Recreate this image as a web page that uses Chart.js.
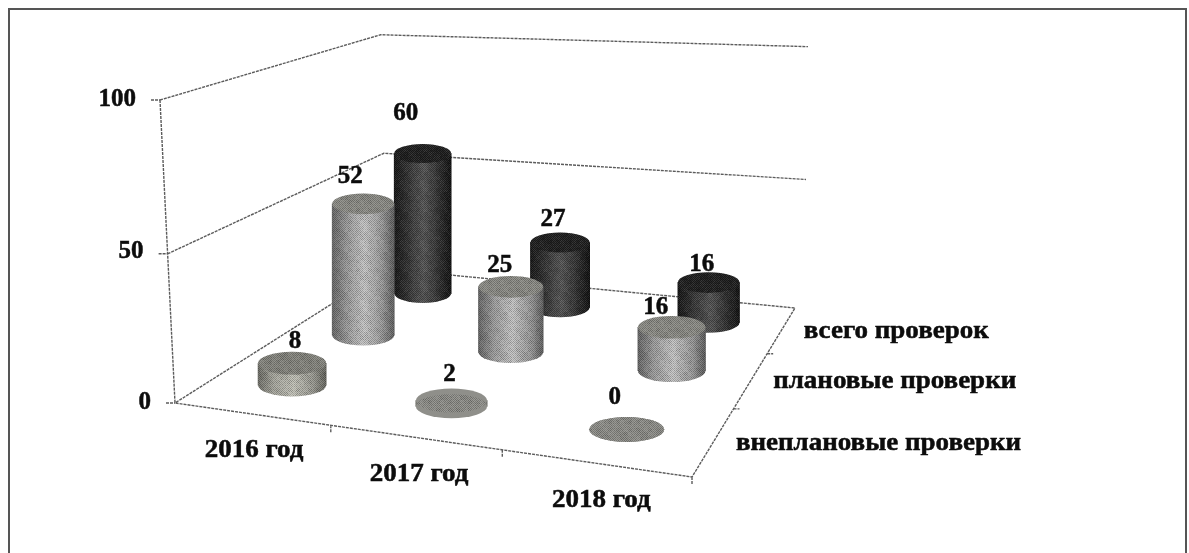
<!DOCTYPE html>
<html lang="ru">
<head>
<meta charset="utf-8">
<title>Проверки 2016-2018</title>
<script src="https://cdn.jsdelivr.net/npm/chart.js@4"></script>
<style>
  html, body { margin: 0; padding: 0; background: #fff; }
  #box { width: 1189px; height: 553px; }
  /* the original is a soft scan */
  #myChart { filter: blur(0.4px); }
</style>
</head>
<body>
<div id="box"><canvas id="myChart"></canvas></div>
<script>
// Data
const categories = ['2016 год', '2017 год', '2018 год'];
const seriesNames = ['внеплановые проверки', 'плановые проверки', 'всего проверок'];
const unplanned = [8, 2, 0];
const planned = [52, 25, 16];
const total = [60, 27, 16];
const tickValues = [0, 50, 100];

const seriesValues = [unplanned, planned, total];

// Camera of the 3D box: where the floor corners and the top of the front corner land
const FL = [175, 403], FR = [692, 477], BR = [795, 308], BL = [387, 269], FT = [160, 100];
const GW = -0.03;      // perspective along the value axis
const BAR_FIT = 0.95;  // cylinders come out a bit shorter than the walls in the original
const RADIUS = 35;     // cylinder radius on the front plane
const FLATNESS = 0.335;
const Y_PER_UNIT = 3.03;

// Square-to-quad solve for the floor
const dx1 = FR[0] - BR[0], dx2 = BL[0] - BR[0], sx = FL[0] - FR[0] + BR[0] - BL[0];
const dy1 = FR[1] - BR[1], dy2 = BL[1] - BR[1], sy = FL[1] - FR[1] + BR[1] - BL[1];
const det = dx1 * dy2 - dx2 * dy1;
const GU = (sx * dy2 - dx2 * sy) / det;
const GV = (dx1 * sy - sx * dy1) / det;

// u along the years, v into depth, w = value / 100. Returns canvas position
function project(u, v, w) {
  const d = 1 + GU * u + GV * v + GW * w;
  const px = FL[0] + (FR[0] * (1 + GU) - FL[0]) * u + (BL[0] * (1 + GV) - FL[0]) * v + (FT[0] * (1 + GW) - FL[0]) * w;
  const py = FL[1] + (FR[1] * (1 + GU) - FL[1]) * u + (BL[1] * (1 + GV) - FL[1]) * v + (FT[1] * (1 + GW) - FL[1]) * w;
  return { x: px / d, y: py / d, d: d };
}

// y axis of the chart is in value units, 0 sits on the front corner of the floor
const toY = py => (FL[1] - py) / Y_PER_UNIT;
const yMin = toY(553), yMax = toY(0);
const pt = (u, v, w) => { const p = project(u, v, w); return { x: p.x, y: toY(p.y) }; };
const catU = i => (i + 0.5) / categories.length + i * 0.005;
const serV = i => (i + 0.5) / seriesNames.length;

// Wall and floor lines
const gap = { x: 0, y: null };
function wallLine(w) { return [pt(0, 0, w), pt(0, 1, w), pt(1.02, 1, w)]; }
const frame3d = [
  ...wallLine(1), gap,
  ...wallLine(0.5), gap,
  pt(0, 0, 1), pt(0, 0, 0), pt(1, 0, 0), pt(1, 1, 0), pt(0, 1, 0), pt(0, 0, 0), gap
];
// Small tick marks on the axes
tickValues.forEach(t => {
  const p = pt(0, 0, t / 100);
  frame3d.push({ x: p.x - 9, y: p.y }, { x: p.x, y: p.y }, gap);
});
[1 / 3, 2 / 3, 1].forEach(u => {
  const p = pt(u, 0, 0);
  frame3d.push(p, { x: p.x, y: p.y - 2.5 }, gap);
});
[1 / 3, 2 / 3].forEach(v => {
  const p = pt(1, v, 0);
  frame3d.push(p, { x: p.x + 6, y: p.y }, gap);
});

// Colours of the cylinders, front row to back row
const sideStops = [
  ['#6f6f68', '#a5a59c', '#c2c2b8', '#9c9c94', '#66665f'],
  ['#666666', '#9a9a9a', '#c6c6c6', '#9c9c9c', '#5e5e5e'],
  ['#141414', '#303030', '#555555', '#2c2c2c', '#101010']
];
const topColors = ['#85857e', '#8c8c86', '#1d1d1d'];
const flatColors = '#8f8f8a';

// Where each number sits relative to the top of its cylinder
const labelDx = [[3, -2, -12], [-13, -11, -16], [-17, -7, -7]];
const labelDy = [[10, 20, 19], [17, 10, 8], [30, 13, 8]];

function sideFill(context, s) {
  if (context.dataIndex === undefined) return '#888';
  const p = project(catU(context.dataIndex), serV(s), 0);
  const r = RADIUS / p.d;
  const g = context.chart.ctx.createLinearGradient(p.x - r, 0, p.x + r, 0);
  sideStops[s].forEach((c, i) => g.addColorStop([0, 0.22, 0.52, 0.8, 1][i], c));
  return g;
}

const datasets = seriesValues.map((vals, s) => ({
  type: 'bar',
  label: seriesNames[s],
  data: vals.map((v, c) => {
    const floor = project(catU(c), serV(s), 0);
    const top = project(catU(c), serV(s), v / 100 * BAR_FIT);
    return { x: floor.x, y: [toY(floor.y), toY(top.y)] };
  }),
  backgroundColor: ctx => sideFill(ctx, s),
  borderWidth: 0,
  barThickness: 60,
  grouped: false,
  order: s + 1
}));

datasets.push({
  type: 'line',
  label: 'box',
  data: frame3d,
  borderColor: '#5c5c5c',
  borderWidth: 1.4,
  borderDash: [3, 1],
  pointRadius: 0,
  spanGaps: false,
  tension: 0,
  order: 10
});

// Grainy scan texture laid over the cylinders
function makeGrain() {
  const c = document.createElement('canvas');
  c.width = c.height = 60;
  const g = c.getContext('2d');
  for (let y = 0; y < 60; y++) {
    for (let x = 0; x < 60; x++) {
      const h = ((x * 73 + y * 151 + x * y * 17) ^ (x * 31)) % 7;
      const blob = (((x >> 2) * 37 + (y >> 2) * 91 + (x >> 2) * (y >> 2) * 13) % 5) - 2;
      const dark = (x + y) % 2 === 0;
      const a = dark ? 0.14 + h * 0.02 + blob * 0.03 : 0.04 + h * 0.012 - blob * 0.015;
      g.fillStyle = dark ? `rgba(0,0,0,${Math.max(a, 0)})` : `rgba(255,255,255,${Math.max(a, 0)})`;
      g.fillRect(x, y, 1, 1);
    }
  }
  return c;
}

const cylinders = {
  id: 'cylinders',
  afterDatasetUpdate(chart, args) {
    // each cylinder gets its own width from the perspective
    const s = args.index;
    if (s >= seriesValues.length) return;
    args.meta.data.forEach((bar, c) => {
      bar.width = 2 * RADIUS / project(catU(c), serV(s), 0).d;
    });
  },
  afterDatasetDraw(chart, args) {
    const s = args.index;
    if (s >= seriesValues.length) return;
    const ctx = chart.ctx;
    if (!this.grain) this.grain = ctx.createPattern(makeGrain(), 'repeat');
    args.meta.data.forEach((bar, c) => {
      const r = bar.width / 2, ry = r * FLATNESS;
      const flat = seriesValues[s][c] < 3;
      ctx.save();
      // lower rim
      ctx.fillStyle = flat ? flatColors : bar.options.backgroundColor;
      ctx.beginPath();
      ctx.ellipse(bar.x, bar.base, r, ry, 0, 0, Math.PI * 2);
      ctx.fill();
      // lid
      ctx.fillStyle = flat ? flatColors : topColors[s];
      ctx.beginPath();
      ctx.ellipse(bar.x, bar.y, r, ry, 0, 0, Math.PI * 2);
      ctx.fill();
      // grain over the whole silhouette
      ctx.beginPath();
      ctx.ellipse(bar.x, bar.y, r, ry, 0, Math.PI, Math.PI * 2);
      ctx.lineTo(bar.x + r, bar.base);
      ctx.ellipse(bar.x, bar.base, r, ry, 0, 0, Math.PI);
      ctx.closePath();
      ctx.fillStyle = this.grain;
      ctx.fill();
      ctx.restore();
    });
  }
};

const FONT = 'bold 25px "Liberation Serif", "Times New Roman", serif';

// the scan is a bit wider than the font, and the ink is heavy
function inkText(ctx, text, x, y, stretch) {
  ctx.save();
  ctx.translate(x, y);
  ctx.scale(stretch, 1);
  ctx.lineWidth = 0.5;
  ctx.strokeStyle = ctx.fillStyle;
  ctx.strokeText(text, 0, 0);
  ctx.fillText(text, 0, 0);
  ctx.restore();
}

const texts = {
  id: 'texts',
  afterDraw(chart) {
    const ctx = chart.ctx;
    const yScale = chart.scales.y;
    ctx.save();
    // page frame of the scan, open at the bottom
    ctx.strokeStyle = '#555';
    ctx.lineWidth = 2;
    ctx.beginPath();
    ctx.moveTo(9, 553);
    ctx.lineTo(9, 9);
    ctx.lineTo(1186, 9);
    ctx.lineTo(1186, 553);
    ctx.stroke();

    ctx.font = FONT;
    ctx.fillStyle = '#0c0c0c';
    ctx.textBaseline = 'middle';

    // value axis numbers
    ctx.textAlign = 'right';
    tickValues.forEach(t => {
      const axisX = project(0, 0, t / 100).x;
      inkText(ctx, String(t), axisX - 24, yScale.getPixelForValue(t), 1);
    });

    // numbers above the cylinders
    ctx.textAlign = 'center';
    seriesValues.forEach((vals, s) => {
      const bars = chart.getDatasetMeta(s).data;
      vals.forEach((v, c) => {
        const ry = bars[c].width / 2 * FLATNESS;
        inkText(ctx, String(v), bars[c].x + labelDx[s][c], bars[c].y - ry - labelDy[s][c], 1);
      });
    });

    // years under the front edge
    categories.forEach((name, c) => {
      const p = project(catU(c), 0, 0);
      inkText(ctx, name, p.x + 3 - c, p.y + 37, 1.08);
    });

    // series names to the right of the floor
    ctx.textAlign = 'left';
    seriesNames.forEach((name, s) => {
      const p = project(1, serV(s), 0);
      inkText(ctx, name, p.x + 22, p.y + 2, 1.08);
    });
    ctx.restore();
  }
};

new Chart(document.getElementById('myChart'), {
  data: { datasets: datasets },
  plugins: [cylinders, texts],
  options: {
    responsive: true,
    maintainAspectRatio: false,
    animation: false,
    layout: { padding: 0 },
    plugins: { legend: { display: false }, tooltip: { enabled: false } },
    scales: {
      x: { type: 'linear', min: 0, max: 1189, offset: false, display: false },
      y: { type: 'linear', min: yMin, max: yMax, display: false }
    }
  }
});
</script>
</body>
</html>
